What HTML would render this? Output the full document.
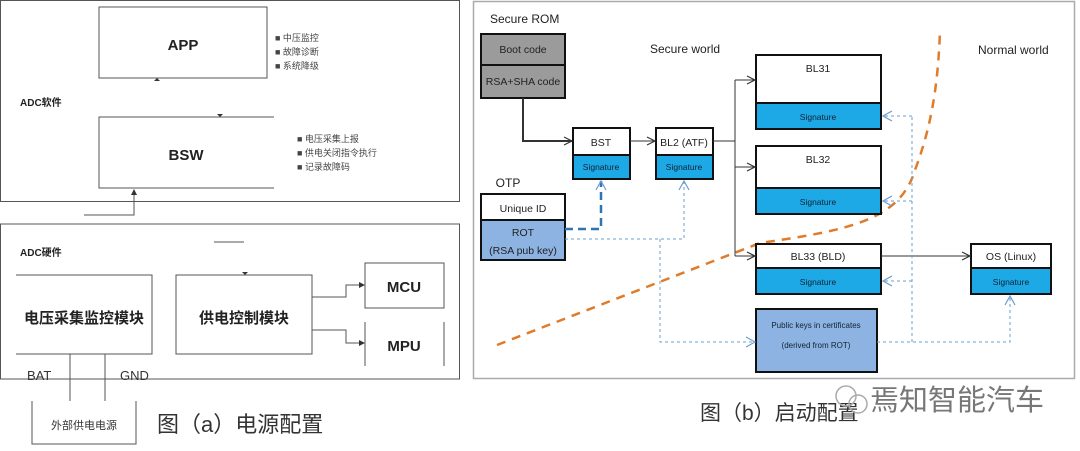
<!DOCTYPE html>
<html><head><meta charset="utf-8"><style>
html,body{margin:0;padding:0;background:#fff;}
body{width:1080px;height:446px;overflow:hidden;}
svg text{font-family:"Liberation Sans","Noto Sans CJK SC",sans-serif;}
</style></head><body>
<svg width="1080" height="446" viewBox="0 0 1080 446" xmlns="http://www.w3.org/2000/svg">
<defs>
<marker id="ar" markerWidth="10" markerHeight="10" refX="9" refY="5" orient="auto" markerUnits="userSpaceOnUse"><path d="M1,1 L9,5 L1,9" fill="none" stroke="#333" stroke-width="1.2"/></marker>
<marker id="arb" markerWidth="12" markerHeight="12" refX="10" refY="6" orient="auto" markerUnits="userSpaceOnUse"><path d="M1,1 L10,6 L1,11" fill="none" stroke="#6a9fd0" stroke-width="1.2"/></marker>
<marker id="ars" markerWidth="6" markerHeight="6" refX="5" refY="3" orient="auto" markerUnits="userSpaceOnUse"><path d="M0,0 L6,3 L0,6z" fill="#333"/></marker>
</defs>
<!-- LEFT PANEL -->
<g stroke="#555" stroke-width="1" fill="none">
<rect x="0.5" y="0.5" width="459" height="201"/>
<rect x="99" y="7" width="168" height="71"/>
<path d="M274,117 H99 V188 H274"/>
<path d="M84,215 H134 V190" marker-end="url(#ars)"/>
<rect x="0.5" y="224" width="459" height="155"/>
<path d="M214,242 H244"/>
<path d="M16,275 H152 V354 H16"/>
<rect x="176" y="275" width="136" height="79"/>
<rect x="365" y="263" width="79" height="45"/>
<path d="M365,322 V366 M444,322 V366"/>
<path d="M312,297 H346 V285 H364" marker-end="url(#ars)"/>
<path d="M312,330 H346 V343 H364" marker-end="url(#ars)"/>
<path d="M70,354 V401 M105,354 V401"/>
<path d="M32,401 V444 H136 V401"/>
</g>
<g fill="#333"><path d="M154,81 l3,-3 l3,3z"/><path d="M217,114 l3,3 l3,-3z"/><path d="M242,272 l3,3 l3,-3z"/></g>
<g font-weight="bold" fill="#222" text-anchor="middle">
<text x="183" y="50" font-size="15">APP</text>
<text x="186" y="160" font-size="15">BSW</text>
<text x="84" y="323" font-size="15">电压采集监控模块</text>
<text x="244" y="323" font-size="15">供电控制模块</text>
<text x="404" y="292" font-size="15">MCU</text>
<text x="404" y="351" font-size="15">MPU</text>
</g>
<g font-size="9" fill="#444">
<text x="275" y="41">■ 中压监控</text>
<text x="275" y="55">■ 故障诊断</text>
<text x="275" y="69">■ 系统降级</text>
<text x="297" y="142">■ 电压采集上报</text>
<text x="297" y="156">■ 供电关闭指令执行</text>
<text x="297" y="170">■ 记录故障码</text>
</g>
<text x="20" y="106" font-size="10" font-weight="bold" fill="#222">ADC软件</text>
<text x="20" y="256" font-size="10" font-weight="bold" fill="#222">ADC硬件</text>
<text x="27" y="380" font-size="13" fill="#333">BAT</text>
<text x="120" y="380" font-size="13" fill="#333">GND</text>
<text x="84" y="429" font-size="11" fill="#333" text-anchor="middle">外部供电电源</text>
<text x="157" y="432" font-size="22" fill="#333">图（a）电源配置</text>

<!-- RIGHT PANEL -->
<rect x="473.5" y="1.5" width="601" height="377" fill="none" stroke="#aaa" stroke-width="1.5"/>
<text x="490" y="23" font-size="12" fill="#222">Secure ROM</text>
<text x="650" y="53" font-size="12" fill="#222">Secure world</text>
<text x="978" y="54" font-size="12" fill="#222">Normal world</text>
<text x="508" y="187" font-size="12" fill="#222" text-anchor="middle">OTP</text>
<!-- orange curve -->
<path d="M497,345 L760,243 C850,230 900,220 915,170 C930,130 938,90 940,30" fill="none" stroke="#e07b2a" stroke-width="2.5" stroke-dasharray="9,7"/>
<!-- boxes -->
<g stroke="#111" stroke-width="2">
<rect x="481" y="34" width="84" height="31" fill="#9b9b9b"/>
<rect x="481" y="65" width="84" height="33" fill="#9b9b9b"/>
<rect x="573" y="128" width="57" height="27" fill="#fff"/>
<rect x="573" y="155" width="57" height="24" fill="#1da9e6"/>
<rect x="656" y="128" width="57" height="27" fill="#fff"/>
<rect x="656" y="155" width="57" height="24" fill="#1da9e6"/>
<rect x="481" y="194" width="84" height="26" fill="#fff"/>
<rect x="481" y="220" width="84" height="40" fill="#8db3e2"/>
<rect x="756" y="55" width="125" height="48" fill="#fff"/>
<rect x="756" y="103" width="125" height="26" fill="#1da9e6"/>
<rect x="756" y="146" width="125" height="42" fill="#fff"/>
<rect x="756" y="188" width="125" height="26" fill="#1da9e6"/>
<rect x="756" y="244" width="125" height="24" fill="#fff"/>
<rect x="756" y="268" width="125" height="26" fill="#1da9e6"/>
<rect x="971" y="244" width="80" height="24" fill="#fff"/>
<rect x="971" y="268" width="80" height="26" fill="#1da9e6"/>
<rect x="756" y="309" width="121" height="63" fill="#8db3e2"/>
</g>
<g font-size="10.5" fill="#222" text-anchor="middle">
<text x="523" y="53">Boot code</text>
<text x="523" y="85">RSA+SHA code</text>
<text x="601" y="146">BST</text>
<text x="684" y="146">BL2 (ATF)</text>
<text x="523" y="212">Unique ID</text>
<text x="523" y="236">ROT</text>
<text x="523" y="254">(RSA pub key)</text>
<text x="818" y="72">BL31</text>
<text x="818" y="163">BL32</text>
<text x="818" y="260">BL33 (BLD)</text>
<text x="1011" y="260">OS (Linux)</text>
</g>
<g font-size="8.5" fill="#123" text-anchor="middle">
<text x="601" y="170">Signature</text>
<text x="684" y="170">Signature</text>
<text x="818" y="120">Signature</text>
<text x="818" y="205">Signature</text>
<text x="818" y="285">Signature</text>
<text x="1011" y="285">Signature</text>
<text x="816" y="328" font-size="8">Public keys in certificates</text>
<text x="816" y="348" font-size="8">(derived from ROT)</text>
</g>
<!-- solid connectors -->
<g fill="none" stroke="#333" stroke-width="1">
<path d="M523,98 V141 H572" stroke-width="2" marker-end="url(#ar)"/>
<path d="M630,141 H655" marker-end="url(#ar)"/>
<path d="M713,141 H735"/>
<path d="M735,80 V256"/>
<path d="M735,80 H755" marker-end="url(#ar)"/>
<path d="M735,167 H755" marker-end="url(#ar)"/>
<path d="M735,256 H755" marker-end="url(#ar)"/>
<path d="M881,256 H970" marker-end="url(#ar)"/>
</g>
<!-- dashed blue -->
<g fill="none" stroke="#6a9fd0" stroke-width="1">
<path d="M565,229 H601 V181" stroke="#2e75b6" stroke-width="2.5" stroke-dasharray="8,5" marker-end="url(#arb)"/>
<path d="M565,239 H684 V181" stroke-dasharray="3,3" marker-end="url(#arb)"/>
<path d="M660,239 V342 H755" stroke-dasharray="3,3" marker-end="url(#arb)"/>
<path d="M877,342 H1010 V296" stroke-dasharray="3,3" marker-end="url(#arb)"/>
<path d="M912,342 V116" stroke-dasharray="3,3"/>
<path d="M912,116 H883" stroke-dasharray="3,3" marker-end="url(#arb)"/>
<path d="M912,201 H883" stroke-dasharray="3,3" marker-end="url(#arb)"/>
<path d="M912,281 H883" stroke-dasharray="3,3" marker-end="url(#arb)"/>
</g>
<text x="700" y="420" font-size="21" fill="#333">图（b）启动配置</text>
<g fill="none" stroke="#aaa" stroke-width="1.5">
<circle cx="846" cy="396" r="10"/><circle cx="858" cy="404" r="9"/>
</g>
<text x="870" y="410" font-size="29" fill="#777">焉知智能汽车</text>
</svg>
</body></html>
